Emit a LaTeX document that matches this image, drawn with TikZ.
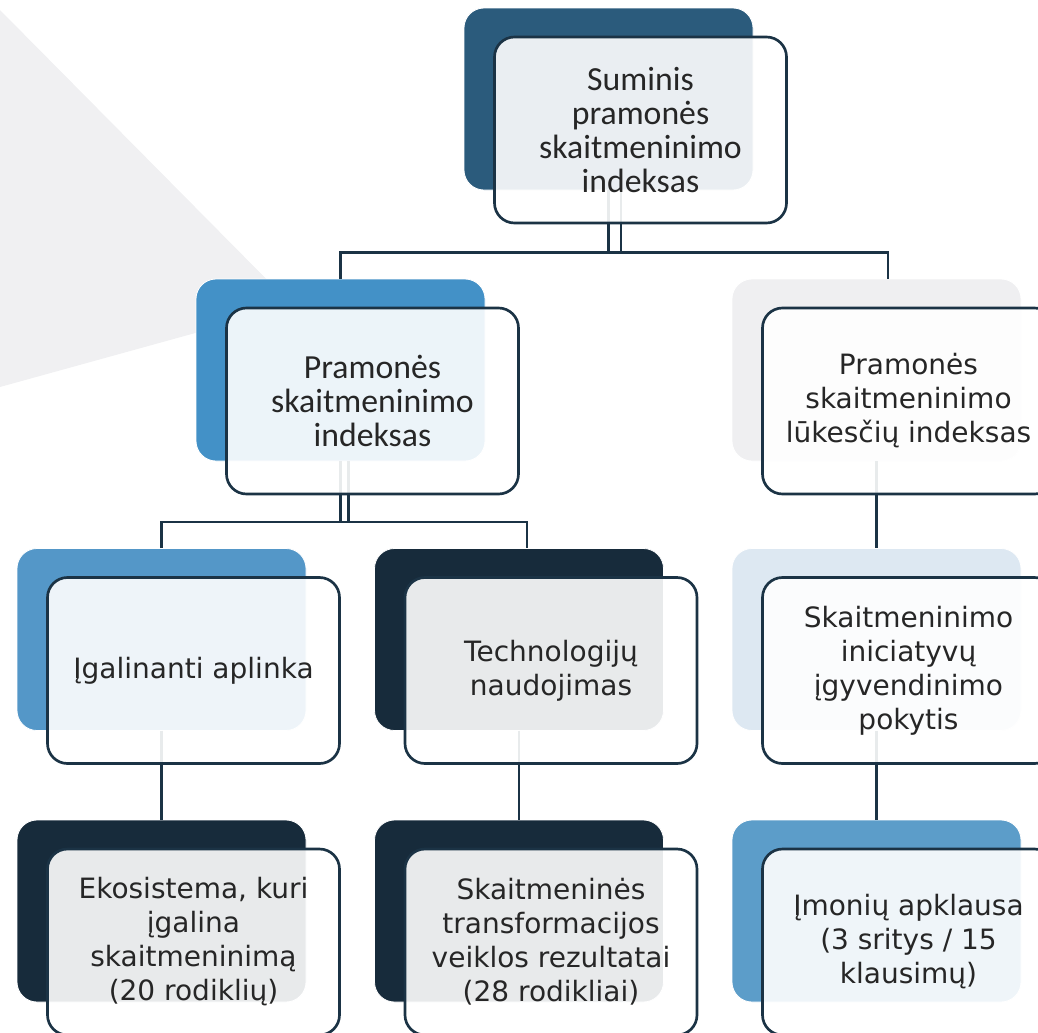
\documentclass[tikz,border=0pt]{standalone}
\usepackage{fontspec}
\setmainfont{DejaVu Sans}
\newfontfamily\calfont{Carlito}
\usepackage{tikz}

\definecolor{linecol}{HTML}{1B3345}
\definecolor{txtcol}{HTML}{262626}
\definecolor{tricol}{HTML}{F0F0F2}
\definecolor{steel}{HTML}{2B5B7C}
\definecolor{midblue}{HTML}{4391C7}
\definecolor{softblue}{HTML}{5497C8}
\definecolor{skyblue}{HTML}{5C9DC9}
\definecolor{navy}{HTML}{172B3B}
\definecolor{palegray}{HTML}{EFEFF1}
\definecolor{paleblue}{HTML}{DDE8F2}

\begin{document}
\begin{tikzpicture}[x=0.75pt,y=-0.75pt,
	back/.style={rectangle,rounded corners=15pt,draw=white,line width=0.6pt,
		minimum width=216.75pt,minimum height=136.5pt,inner sep=0pt},
	front/.style={rectangle,rounded corners=15pt,draw=linecol,line width=2pt,
		fill=white,fill opacity=0.9,text opacity=1,text=txtcol,
		minimum width=219pt,minimum height=139.5pt,inner sep=0pt,align=center,
		font=\fontsize{21}{25.5}\selectfont},
	cal/.style={font=\calfont\fontsize{25.3}{25.5}\selectfont},
	link/.style={draw=linecol,line width=1.9pt}]

	\clip (0,0) rectangle (1038,1032);
	\fill[tricol] (0,10) -- (293,306) -- (0,387) -- cycle;

	% back plates
	\node[back,fill=steel] (sumB) at (608.5,99) {};
	\node[back,fill=midblue] (prodB) at (340.5,370) {};
	\node[back,fill=palegray] (lukB) at (876.5,370) {};
	\node[back,fill=softblue] (envB) at (161.5,639.5) {};
	\node[back,fill=navy] (techB) at (519,639.5) {};
	\node[back,fill=paleblue] (chgB) at (876.5,639.5) {};
	\node[back,fill=navy] (ecoB) at (161.5,911) {};
	\node[back,fill=navy] (resB) at (519,911) {};
	\node[back,fill=skyblue] (survB) at (876.5,911) {};

	% links
	\draw[link] (sumB.south) -- ++(0,62);
	\draw[link] ([xshift=9.4pt]sumB.south) -- ++(0,62);
	\draw[link] (prodB.north) -- ++(0,-26) -| ([xshift=8.6pt]lukB.north);
	\draw[link] (prodB.south) -- ++(0,61);
	\draw[link] ([xshift=6pt]prodB.south) -- ++(0,61);
	\draw[link] (envB.north) -- ++(0,-26) -| ([xshift=6pt]techB.north);
	\draw[link] (lukB.south) -- (chgB.north);
	\draw[link] (envB.south) -- (ecoB.north);
	\draw[link] (techB.south) -- (resB.north);
	\draw[link] (chgB.south) -- (survB.north);

	% front cards
	\node[front,cal] (sum) at (640.5,130) {Suminis\\pramonės\\skaitmeninimo\\indeksas};
	\node[front,cal] (prod) at (372.5,401) {Pramonės\\skaitmeninimo\\indeksas};
	\node[front] (luk) at (908.5,401) {Pramonės\\skaitmeninimo\\lūkesčių indeksas};
	\node[front] (env) at (193.5,670.5) {Įgalinanti aplinka};
	\node[front] (tech) at (551,670.5) {Technologijų\\naudojimas};
	\node[front] (chg) at (908.5,670.5) {Skaitmeninimo\\iniciatyvų\\įgyvendinimo\\pokytis};
	\node[front] (eco) at (193.5,942) {Ekosistema, kuri\\įgalina\\skaitmeninimą\\(20 rodiklių)};
	\node[front] (res) at (551,942) {Skaitmeninės\\transformacijos\\veiklos rezultatai\\(28 rodikliai)};
	\node[front] (surv) at (908.5,942) {Įmonių apklausa\\(3 sritys / 15\\klausimų)};
\end{tikzpicture}
\end{document}
